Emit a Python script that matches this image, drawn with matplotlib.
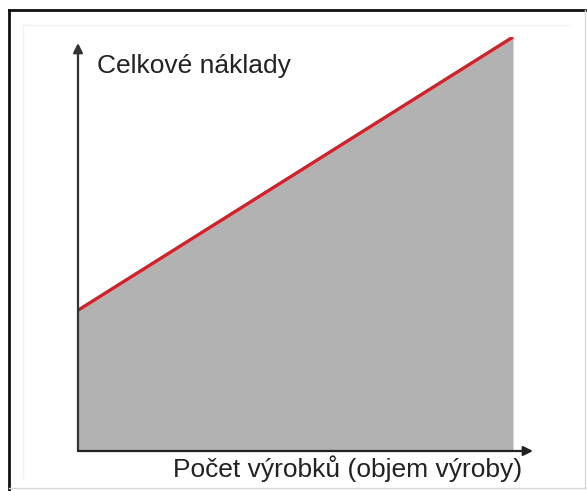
import matplotlib
matplotlib.use("Agg")
import matplotlib.pyplot as plt
from matplotlib.lines import Line2D
import numpy as np

# Data
objem = [0, 10]              # Počet výrobků (objem výroby)
celkove_naklady = [34, 100]  # Celkové náklady
x_label = "Počet výrobků (objem výroby)"
y_label = "Celkové náklady"

W, H = 587, 491
fig = plt.figure(figsize=(W / 100, H / 100), dpi=100)
fig.patch.set_facecolor("white")

# axes region in pixels (from top-left)
left_px, right_px, bottom_px, top_px = 78, 533, 451, 37
ax = fig.add_axes([left_px / W, 1 - bottom_px / H,
                   (right_px - left_px) / W, (bottom_px - top_px) / H])
ax.set_xlim(0, 10 * (right_px - left_px) / (513 - left_px))
ax.set_ylim(0, 100)
ax.axis("off")

ax.fill_between(objem, 0, celkove_naklady, color="#b2b2b2", linewidth=0, zorder=1)
ax.plot(objem, celkove_naklady, color="#d0222a", linewidth=2.4,
        solid_capstyle="butt", zorder=3)

# axes arrows
y_tip = (bottom_px - 43) / (bottom_px - top_px)
ax.annotate("", xy=(0, y_tip), xytext=(0, 0), xycoords="axes fraction",
            arrowprops=dict(arrowstyle="-|>", color="#333333", lw=1.6,
                            mutation_scale=14, shrinkA=0, shrinkB=0),
            zorder=4, annotation_clip=False)
ax.annotate("", xy=(1.0, 0), xytext=(0, 0), xycoords="axes fraction",
            arrowprops=dict(arrowstyle="-|>", color="#222222", lw=1.6,
                            mutation_scale=14, shrinkA=0, shrinkB=0),
            zorder=4, annotation_clip=False)

font = ["Liberation Sans", "DejaVu Sans"]
fig.text(97 / W, 1 - 66 / H, y_label, family=font, fontsize=19,
         color="#222222", ha="left", va="center")
fig.text(173 / W, 1 - 469 / H, x_label, family=font, fontsize=19,
         color="#222222", ha="left", va="center")

# frame
def fline(x0, y0, x1, y1, color, lw):
    fig.add_artist(Line2D([x0 / W, x1 / W], [1 - y0 / H, 1 - y1 / H],
                          color=color, linewidth=lw, transform=fig.transFigure))

fline(9, 10, 587, 10, "#111111", 2.0)
fline(9, 10, 9, 491, "#111111", 2.0)
fline(585, 10, 585, 488, "#d8d8d8", 1.0)
fline(9, 488, 587, 488, "#d8d8d8", 1.0)
# faint inner frame
fline(23, 25, 570, 25, "#f2f2f2", 1.0)
fline(23, 25, 23, 478, "#f2f2f2", 1.0)

fig.savefig("out.png", dpi=100, facecolor="white")
